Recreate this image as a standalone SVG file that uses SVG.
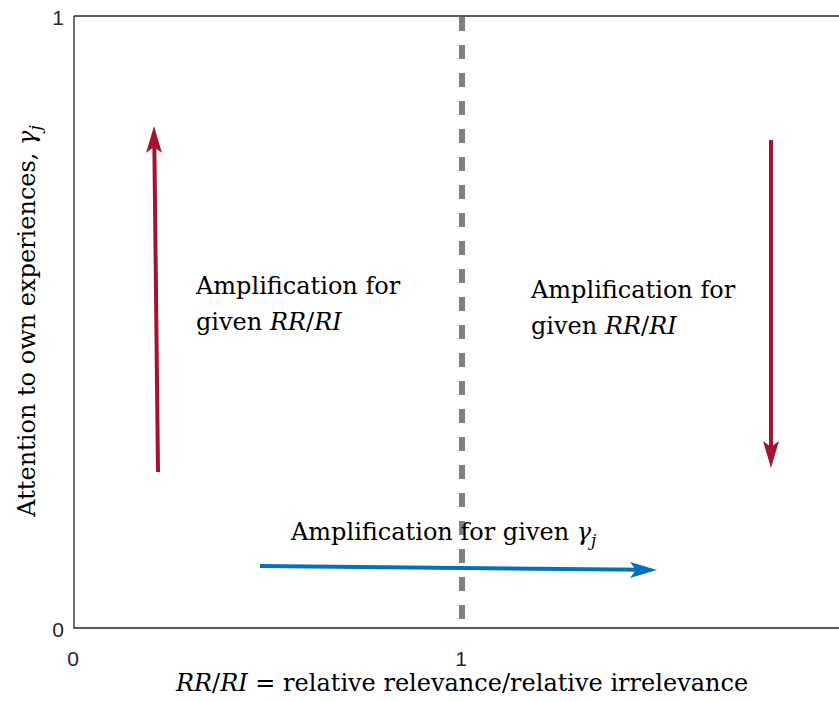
<svg xmlns="http://www.w3.org/2000/svg" width="839" height="701" viewBox="0 0 839 701">
<defs>
<style>
.red{stroke:#A2142F;stroke-width:4;fill:none}
.blue{stroke:#0072BD;stroke-width:4;fill:none}
</style>
</defs>
<rect width="839" height="701" fill="#fff"/>
<g id="axes">
<path d="M74,16 H839 M74,16 V628 H839" stroke="#262626" stroke-width="1.3" fill="none"/>
<g font-family="Liberation Sans, Arial, sans-serif" font-size="21" fill="#262626" text-anchor="middle">
<text x="58" y="25">1</text>
<text x="58" y="637">0</text>
<text x="73" y="666">0</text>
<text x="461" y="666">1</text>
</g>
<g font-family="DejaVu Serif, serif" font-size="24" fill="#000">
<text x="462" y="691" text-anchor="middle"><tspan font-style="italic">RR</tspan>/<tspan font-style="italic">RI</tspan> = relative relevance/relative irrelevance</text>
<text transform="translate(35,321) rotate(-90)" text-anchor="middle">Attention to own experiences, <tspan font-style="italic">γ</tspan><tspan font-style="italic" font-size="17" dy="6">j</tspan></text>
</g>
</g>
<g id="divider">
<line x1="462" y1="17" x2="462" y2="628" stroke="#808080" stroke-width="6" stroke-dasharray="14,14"/>
</g>
<g id="connectors">
<g id="arrow-up">
<line class="red" x1="158" y1="472" x2="154.3" y2="140"/>
<path d="M154,126 L146,153 L154,147 L162,153 Z" fill="#A2142F"/>
</g>
<g id="arrow-down">
<line class="red" x1="771" y1="140" x2="771" y2="455"/>
<path d="M771,468 L763,441 L771,447 L779,441 Z" fill="#A2142F"/>
</g>
<g id="arrow-right">
<line class="blue" x1="260" y1="566" x2="645" y2="569.8"/>
<path d="M657,570 L630,562 L636,570 L630,578 Z" fill="#0072BD"/>
</g>
</g>
<g font-family="DejaVu Serif, serif" font-size="24" fill="#000">
<g id="label-left">
<text x="196" y="294">Amplification for</text>
<text x="196" y="330">given <tspan font-style="italic">RR</tspan>/<tspan font-style="italic">RI</tspan></text>
</g>
<g id="label-right">
<text x="531" y="298">Amplification for</text>
<text x="531" y="334">given <tspan font-style="italic">RR</tspan>/<tspan font-style="italic">RI</tspan></text>
</g>
<g id="label-bottom">
<text x="291" y="540">Amplification for given <tspan font-style="italic">γ</tspan><tspan font-style="italic" font-size="17" dy="6">j</tspan></text>
</g>
</g>
</svg>
